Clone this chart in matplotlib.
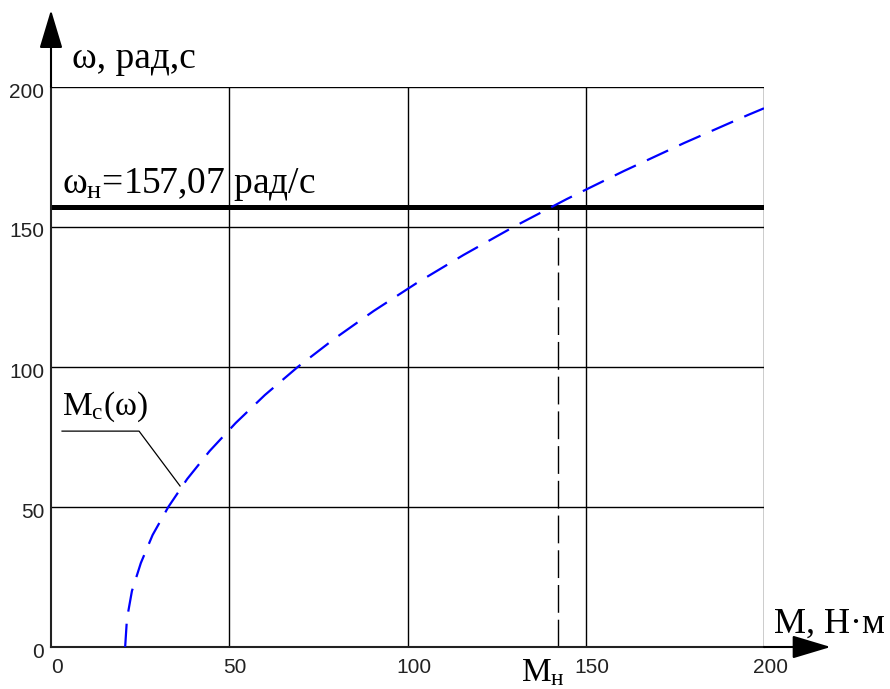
import numpy as np
import matplotlib
matplotlib.use("Agg")
import matplotlib.pyplot as plt
import matplotlib.transforms as mtransforms

plt.rcParams['mathtext.fontset'] = 'custom'
plt.rcParams['mathtext.rm'] = 'Liberation Serif'
plt.rcParams['mathtext.it'] = 'Liberation Serif:italic'

# M_c(omega): torque M [N*m] vs speed omega [rad/s]
omega = [0, 10, 20, 30, 40, 50, 60, 70, 80, 90, 100, 110, 120, 130, 140,
         150, 160, 170, 180, 190, 192.4]
M = [20.8, 21.3, 22.7, 25.2, 28.5, 32.9, 38.2, 44.5, 51.8, 60.0, 69.2, 79.4,
     90.5, 102.6, 115.7, 129.7, 144.7, 160.7, 177.6, 195.5, 200.0]

omega_n = 157.07
M_n = 142.2

ticks = [0, 50, 100, 150, 200]
tick_labels = ['0', '50', '100', '150', '200']

fig = plt.figure(figsize=(8.9, 6.89), dpi=100)
ax = fig.add_axes([51 / 890, 42 / 689, 713 / 890, 560 / 689])
ax.set_xlim(0, 200)
ax.set_ylim(0, 200)

for v in ticks[1:]:
    ax.axvline(v, color='black', lw=1.0, zorder=1)
    ax.axhline(v, color='black', lw=1.0, zorder=1)

ax.plot(M, omega, color='#0000ff', lw=1.6, linestyle=(0, (10.5, 5.5)), zorder=3)
ax.plot([0, 200], [omega_n, omega_n], color='black', lw=3.6, solid_capstyle='butt', zorder=2)
ax.plot([M_n, M_n], [0, omega_n], color='black', lw=1.0, linestyle=(0, (20, 5)), zorder=2)

for s in ['top', 'right']:
    ax.spines[s].set_visible(False)
for s in ['left', 'bottom']:
    ax.spines[s].set_linewidth(1.5)
    ax.spines[s].set_color('#222222')

ax.set_xticks(ticks)
ax.set_yticks(ticks)
ax.set_xticklabels(tick_labels)
ax.set_yticklabels(tick_labels)
ax.tick_params(length=0, labelsize=15, colors='#222222')
ax.tick_params(axis='x', pad=8)
ax.tick_params(axis='y', pad=5)
for lab in ax.get_xticklabels() + ax.get_yticklabels():
    lab.set_family('Liberation Sans')
dx = mtransforms.ScaledTranslation(6 / 100, 0, fig.dpi_scale_trans)
for lab in ax.get_xticklabels():
    lab.set_transform(lab.get_transform() + dx)
dy = mtransforms.ScaledTranslation(0, -3 / 100, fig.dpi_scale_trans)
for lab in ax.get_yticklabels():
    lab.set_transform(lab.get_transform() + dy)

# axis arrows
arrow = dict(arrowstyle='-|>,head_length=2.4,head_width=0.72', color='black',
             lw=1.5, shrinkA=0, shrinkB=0, mutation_scale=10)
ax.annotate('', xy=(0, 1.1375), xytext=(0, 1.0), xycoords='axes fraction',
            textcoords='axes fraction', arrowprops=arrow, annotation_clip=False)
ax.annotate('', xy=(1.0935, 0), xytext=(1.0, 0), xycoords='axes fraction',
            textcoords='axes fraction', arrowprops=arrow, annotation_clip=False)

serif = 'Liberation Serif'
ax.text(5.9, 206.8, 'ω, рад,с', family=serif, fontsize=27, clip_on=False)
ax.text(3.1, 162.1, r'$\mathregular{ω_н}$=157,07 рад/с', family=serif, fontsize=27, clip_on=False)
ax.text(202.8, 5, 'М, Н·м', family=serif, fontsize=26, clip_on=False)
ax.text(131.7, -12.1, r'$\mathregular{M_н}$', family=serif, fontsize=24, clip_on=False)
ax.text(3.1, 82.9, r'$\mathregular{M_c}$(ω)', family=serif, fontsize=24, clip_on=False)

# leader line to the curve
ax.plot([3.1, 24.7, 36.2], [77.1, 77.1, 57.5], color='black', lw=0.9, zorder=2)

fig.savefig('out.png', dpi=100)
